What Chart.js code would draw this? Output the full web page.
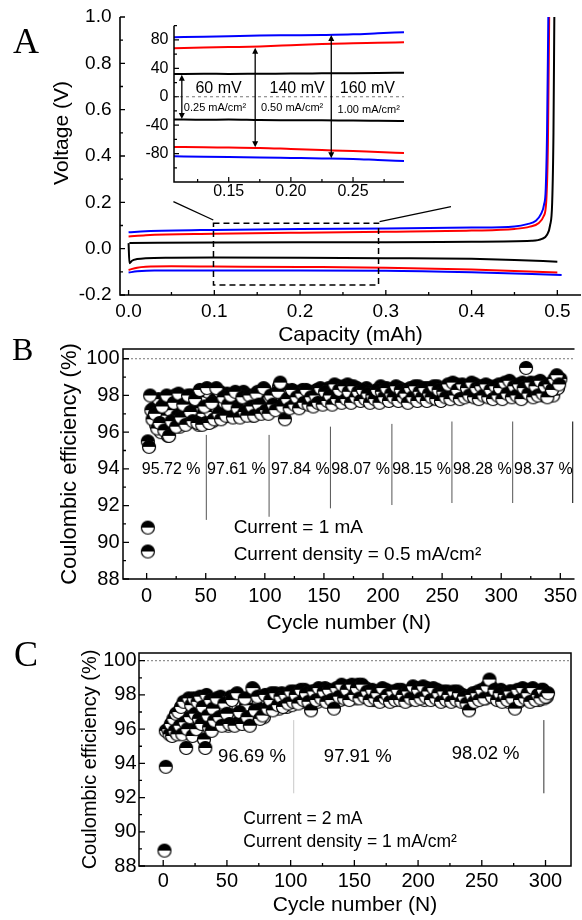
<!DOCTYPE html>
<html><head><meta charset="utf-8">
<script src="https://cdn.jsdelivr.net/npm/chart.js@4.4.0/dist/chart.umd.min.js"></script>
<style>
html,body{margin:0;padding:0;background:#fff;overflow:hidden;}
#wrap{position:relative;width:582px;height:920px;overflow:hidden;background:#fff;}
#cA{position:absolute;left:0;top:0;}
#cIn{position:absolute;left:130px;top:10px;}
#cB{position:absolute;left:0;top:330px;}
#cC{position:absolute;left:0;top:630px;}
</style></head><body><div id="wrap">
<canvas id="cA" width="582" height="350"></canvas>
<canvas id="cB" width="582" height="310"></canvas>
<canvas id="cC" width="582" height="290"></canvas>
<canvas id="cIn" width="290" height="200"></canvas>
</div>
<script>
// ===================== DATA =====================
// Panel A: voltage profiles (Capacity mAh, Voltage V)
const aBlueUpX  = [0, 0.02, 0.1, 0.2, 0.3, 0.4, 0.45, 0.465, 0.475, 0.481, 0.4845, 0.4865, 0.488, 0.4895];
const aBlueUpY  = [0.071, 0.075, 0.081, 0.085, 0.087, 0.091, 0.096, 0.106, 0.12, 0.15, 0.19, 0.26, 0.5, 1.0];
const aRedUpX   = [0, 0.02, 0.1, 0.2, 0.3, 0.4, 0.45, 0.468, 0.478, 0.484, 0.487, 0.489, 0.4905];
const aRedUpY   = [0.052, 0.058, 0.064, 0.069, 0.073, 0.078, 0.085, 0.095, 0.11, 0.14, 0.2, 0.45, 1.0];
const aBlackUpX = [0.001, 0.1, 0.2, 0.3, 0.4, 0.47, 0.482, 0.488, 0.4915, 0.494, 0.4955, 0.4965];
const aBlackUpY = [0.024, 0.027, 0.028, 0.028, 0.030, 0.034, 0.042, 0.06, 0.1, 0.2, 0.5, 1.0];
const aBlackDnX = [0, 0.001, 0.004, 0.01, 0.02, 0.05, 0.1, 0.2, 0.3, 0.4, 0.45, 0.5];
const aBlackDnY = [0.024, -0.063, -0.052, -0.045, -0.041, -0.039, -0.038, -0.039, -0.041, -0.044, -0.049, -0.056];
const aRedDnX   = [0, 0.01, 0.02, 0.05, 0.1, 0.2, 0.3, 0.4, 0.5];
const aRedDnY   = [-0.092, -0.082, -0.078, -0.076, -0.077, -0.079, -0.082, -0.09, -0.103];
const aBlueDnX  = [0, 0.01, 0.03, 0.1, 0.2, 0.3, 0.4, 0.505];
const aBlueDnY  = [-0.103, -0.098, -0.094, -0.094, -0.094, -0.095, -0.102, -0.114];
const aXTicks = [0, 0.1, 0.2, 0.3, 0.4, 0.5];
const aXMinor = [0.05, 0.15, 0.25, 0.35, 0.45];
const aYTicks = [-0.2, 0, 0.2, 0.4, 0.6, 0.8, 1.0];
const aYMinor = [-0.1, 0.1, 0.3, 0.5, 0.7, 0.9];

// Inset (Capacity mAh, overpotential mV)
const inX        = [0.106, 0.13, 0.15, 0.175, 0.2, 0.225, 0.25, 0.27, 0.291];
const inBlueTop  = [83.8, 84.6, 85.3, 86.2, 86.6, 87.0, 87.8, 89.3, 90.9];
const inRedTop   = [68.4, 69.2, 69.9, 70.8, 72.5, 74.3, 75.3, 76.0, 76.8];
const inBlackTop = [32.0, 32.3, 32.1, 32.4, 32.6, 32.9, 33.2, 33.5, 33.9];
const inBlackBot = [-32.0, -32.4, -32.2, -32.8, -33.0, -33.2, -33.6, -33.8, -34.0];
const inRedBot   = [-70.6, -71.0, -71.5, -72.0, -73.5, -75.0, -76.5, -77.8, -79.1];
const inBlueBot  = [-83.8, -84.3, -84.8, -85.6, -86.2, -86.8, -87.6, -89.0, -90.4];
const inXTicks = [0.15, 0.2, 0.25];
const inXMinor = [0.125, 0.175, 0.225, 0.275];
const inYTicks = [-80, -40, 0, 40, 80];
const inYMinor = [-100, -60, -20, 20, 60, 100];
const inGapText = ['60 mV', '140 mV', '160 mV'];
const inRateText = ['0.25 mA/cm²', '0.50 mA/cm²', '1.00 mA/cm²'];

// Panel B: Coulombic efficiency, 0.5 mA/cm2 (odd cycles + outliers)
const bCycle = [1, 1, 1, 2, 3, 4,
  5, 7, 9, 11, 13, 15, 17, 19, 21, 23,
  25, 27, 29, 31, 33, 35, 37, 39, 41, 43,
  45, 47, 49, 51, 53, 55, 57, 59, 61, 63,
  65, 67, 69, 71, 73, 75, 77, 79, 81, 83,
  85, 87, 89, 91, 93, 95, 97, 99, 101, 103,
  105, 107, 109, 111, 113, 115, 117, 119, 121,
  123, 125, 127, 129, 131, 133, 135, 137, 139, 141,
  143, 145, 147, 149, 151, 153, 155, 157, 159, 161,
  163, 165, 167, 169, 171, 173, 175, 177, 179, 181,
  183, 185, 187, 189, 191, 193, 195, 197, 199, 201,
  203, 205, 207, 209, 211, 213, 215, 217, 219, 221,
  223, 225, 227, 229, 231, 233, 235, 237, 239, 241,
  243, 245, 247, 249, 251, 253, 255, 257, 259, 261,
  263, 265, 267, 269, 271, 273, 275, 277, 279, 281,
  283, 285, 287, 289, 291, 293, 295, 297, 299, 301,
  303, 305, 307, 309, 311, 313, 315, 317, 319, 321,
  323, 325, 327, 329, 331, 333, 335, 337, 339, 341,
  343, 345, 347, 349];
const bCE = [90.8, 89.5, 95.5, 95.2, 98.0, 97.2,
  96.7, 97.0, 96.2, 96.5, 97.4, 96.1, 98.0, 95.8, 96.6, 97.6,
  96.3, 98.1, 96.8, 97.5, 96.4, 98.0, 97.1, 96.6, 97.8, 96.5,
  98.3, 96.4, 97.4, 98.4, 96.5, 97.6, 96.7, 98.4, 97.0, 96.7,
  97.9, 96.9, 97.5, 98.0, 96.8, 98.2, 97.3, 96.8, 97.9, 97.1,
  96.9, 98.0, 97.4, 96.9, 98.1, 97.5, 97.0, 98.4, 97.2, 97.0,
  98.0, 97.5, 97.2, 98.2, 98.7, 97.4, 96.7, 97.8, 97.3,
  98.3, 97.5, 97.9, 97.3, 98.1, 97.6, 98.3, 97.5, 97.9, 97.4,
  98.0, 97.6, 98.4, 97.5, 98.2, 97.7, 98.0, 97.5, 98.6, 97.8,
  98.3, 97.6, 98.5, 97.8, 98.2, 97.6, 98.5, 97.9, 98.2, 97.7,
  98.3, 97.8, 98.1, 97.6, 98.0, 97.8, 98.3, 97.6, 98.2, 97.9,
  98.4, 97.7, 98.1, 97.9, 98.5, 97.7, 98.3, 97.9, 98.1, 97.6,
  98.4, 97.9, 98.5, 97.7, 98.2, 97.9, 98.4, 97.7, 98.1, 97.9,
  98.5, 97.8, 98.3, 97.7, 98.2, 97.9, 98.6, 97.8, 98.7, 98.0,
  98.3, 97.8, 98.6, 97.9, 98.4, 98.0, 98.7, 97.9, 98.4, 97.8,
  98.5, 98.0, 98.6, 97.9, 98.3, 97.8, 98.5, 98.0, 98.4, 97.8,
  98.7, 98.1, 98.8, 97.9, 98.5, 98.0, 98.6, 97.8, 98.4, 99.5,
  98.1, 98.7, 97.9, 98.5, 98.0, 98.8, 98.1, 98.5, 97.9, 98.6,
  98.3, 98.9, 99.1, 98.6];
// Panel B: even cycles
const bCycleEven = [6, 8, 10, 12, 14, 16, 18, 20, 22, 24,
  26, 28, 30, 32, 34, 36, 38, 40, 42, 44,
  46, 48, 50, 52, 54, 56, 58, 60, 62, 64,
  66, 68, 70, 72, 74, 76, 78, 80, 82, 84,
  86, 88, 90, 92, 94, 96, 98, 100, 102, 104,
  106, 108, 110, 112, 114, 116, 118, 120, 122, 124,
  126, 128, 130, 132, 134, 136, 138, 140, 142, 144,
  146, 148, 150, 152, 154, 156, 158, 160, 162, 164,
  166, 168, 170, 172, 174, 176, 178, 180, 182, 184,
  186, 188, 190, 192, 194, 196, 198, 200, 202, 204,
  206, 208, 210, 212, 214, 216, 218, 220, 222, 224,
  226, 228, 230, 232, 234, 236, 238, 240, 242, 244,
  246, 248, 250, 252, 254, 256, 258, 260, 262, 264,
  266, 268, 270, 272, 274, 276, 278, 280, 282, 284,
  286, 288, 290, 292, 294, 296, 298, 300, 302, 304,
  306, 308, 310, 312, 314, 316, 318, 320, 322, 324,
  326, 328, 330, 332, 334, 336, 338, 340, 342, 344,
  346, 348, 350];
const bCEEven = [97.3, 96.4, 97.8, 96.0, 96.9, 97.7, 95.8, 97.2, 96.4, 98.0,
  96.9, 96.3, 97.8, 97.0, 96.5, 97.4, 98.0, 96.8, 97.3, 96.4,
  97.9, 97.0, 96.5, 98.2, 97.1, 96.6, 97.8, 97.3, 98.2, 96.8,
  97.6, 98.1, 96.9, 97.4, 96.9, 98.0, 97.6, 97.0, 98.2, 97.5,
  97.2, 97.8, 96.9, 97.6, 98.2, 97.1, 97.7, 98.3, 97.5, 97.9,
  97.3, 98.0, 97.5, 98.5, 97.9, 97.6, 98.3, 97.6, 97.9, 97.7,
  98.2, 97.8, 97.5, 98.3, 97.8, 97.6, 98.2, 97.9, 97.6, 98.3,
  97.9, 97.7, 98.1, 97.8, 98.4, 97.8, 98.1, 98.0, 98.5, 97.9,
  98.1, 97.9, 98.6, 98.0, 98.2, 97.8, 98.4, 98.0, 98.1, 97.8,
  98.4, 97.9, 98.2, 97.9, 98.1, 97.8, 98.5, 97.9, 98.2, 98.0,
  98.3, 97.8, 98.1, 98.0, 98.4, 97.8, 98.3, 98.0, 98.2, 97.8,
  98.3, 98.0, 98.5, 97.9, 98.2, 98.0, 98.4, 97.8, 98.2, 98.0,
  98.5, 98.0, 98.3, 98.1, 98.3, 98.0, 98.4, 98.2, 98.6, 98.0,
  98.3, 98.1, 98.5, 98.0, 98.4, 98.2, 98.6, 98.1, 98.3, 98.0,
  98.4, 98.2, 98.5, 98.0, 98.3, 98.2, 98.6, 98.1, 98.4, 98.0,
  98.5, 98.2, 98.6, 98.1, 98.3, 98.2, 98.7, 98.0, 98.4, 98.2,
  98.5, 98.1, 98.7, 98.2, 98.4, 98.0, 98.6, 98.2, 98.5, 98.0,
  98.7, 98.4, 98.9];
const bAvgText = ['95.72 %', '97.61 %', '97.84 %', '98.07 %', '98.15 %', '98.28 %', '98.37 %'];
const bXTicks = [0, 50, 100, 150, 200, 250, 300, 350];
const bXMinor = [25, 75, 125, 175, 225, 275, 325];
const ceYTicks = [88, 90, 92, 94, 96, 98, 100];
const ceYMinor = [89, 91, 93, 95, 97, 99];

// Panel C: Coulombic efficiency, 1 mA/cm2
const cCycle = [1, 2, 2, 4, 5, 6, 7, 8, 9, 10,
  11, 12, 13, 14, 15, 16, 17, 18, 19, 20,
  21, 22, 23, 24, 25, 26, 27, 28, 29, 30,
  31, 32, 33, 34, 35, 36, 37, 38, 39, 40,
  42, 44, 46, 48, 50, 52, 54, 56, 58, 60,
  62, 64, 66, 68, 70, 72, 74, 76, 78, 80,
  82, 84, 86, 88, 90, 92, 94, 96, 98, 100, 102,
  104, 106, 108, 110, 112, 114, 116, 118, 120, 122,
  124, 126, 128, 130, 132, 134, 136, 138, 140, 142,
  144, 146, 148, 150, 152, 154, 156, 158, 160, 162,
  164, 166, 168, 170, 172, 174, 176, 178, 180, 182,
  184, 186, 188, 190, 192, 194, 196, 198, 200, 202,
  204, 206, 208, 210, 212, 214, 216, 218, 220, 222,
  224, 226, 228, 230, 232, 234, 236, 238, 240, 242,
  244, 246, 248, 250, 252, 254, 256, 258, 260, 262,
  264, 266, 268, 270, 272, 274, 276, 278, 280, 282,
  284, 286, 288, 290, 292, 294, 296, 298, 300, 302];
const cCE = [88.9, 93.8, 95.9, 96.0, 95.7, 96.3, 95.6, 96.6, 95.9, 96.9,
  95.7, 97.0, 96.2, 97.3, 95.7, 97.6, 96.4, 94.9, 96.0, 97.8,
  96.7, 97.4, 95.6, 97.8, 96.9, 96.0, 97.6, 96.6, 97.9, 96.3,
  97.3, 95.4, 94.9, 98.0, 96.8, 96.1, 97.7, 95.9, 97.2, 96.5,
  97.8, 96.7, 96.2, 97.5, 96.9, 96.3, 97.7, 96.2, 98.1, 97.0,
  96.3, 97.8, 96.7, 96.2, 98.4, 97.1, 97.9, 96.6, 96.8, 98.0,
  97.2, 97.7, 97.1, 98.1, 97.4, 97.9, 97.3, 98.0, 97.5, 98.2, 97.6,
  98.0, 97.5, 98.3, 97.7, 98.1, 97.6, 97.1, 98.2, 97.7, 98.4,
  97.8, 98.2, 97.6, 98.3, 97.7, 97.2, 98.4, 97.9, 98.6, 97.8,
  98.3, 97.7, 98.6, 98.0, 98.4, 97.8, 98.6, 97.9, 98.2, 97.7,
  98.3, 97.8, 98.1, 97.6, 98.4, 97.8, 98.0, 97.6, 98.2, 97.7,
  98.3, 97.7, 98.0, 97.6, 98.2, 97.8, 98.5, 97.7, 98.3, 97.8,
  98.5, 97.9, 98.2, 97.7, 98.4, 97.8, 98.1, 97.6, 98.2, 97.7,
  98.0, 97.6, 98.2, 97.7, 98.1, 97.6, 97.9, 97.5, 97.1, 98.0,
  97.6, 98.1, 97.7, 98.3, 97.8, 98.5, 98.9, 97.9, 98.3, 97.7,
  98.1, 97.6, 98.0, 97.7, 98.2, 97.8, 97.2, 98.3, 97.7, 98.4,
  97.8, 98.1, 97.6, 98.4, 97.7, 98.0, 97.8, 98.3, 97.9, 98.1];
// Panel C: odd cycles from 41
const cCycleOdd = [41, 43, 45, 47, 49, 51, 53, 55, 57, 59,
  61, 63, 65, 67, 69, 71, 73, 75, 77, 79,
  81, 83, 85, 87, 89, 91, 93, 95, 97, 99,
  101, 103, 105, 107, 109, 111, 113, 115, 117, 119,
  121, 123, 125, 127, 129, 131, 133, 135, 137, 139,
  141, 143, 145, 147, 149, 151, 153, 155, 157, 159,
  161, 163, 165, 167, 169, 171, 173, 175, 177, 179,
  181, 183, 185, 187, 189, 191, 193, 195, 197, 199,
  201, 203, 205, 207, 209, 211, 213, 215, 217, 219,
  221, 223, 225, 227, 229, 231, 233, 235, 237, 239,
  241, 243, 245, 247, 249, 251, 253, 255, 257, 259,
  261, 263, 265, 267, 269, 271, 273, 275, 277, 279,
  281, 283, 285, 287, 289, 291, 293, 295, 297, 299, 301];
const cCEOdd = [97.1, 96.3, 97.9, 96.6, 97.3, 96.2, 97.9, 96.8, 98.0, 96.4,
  97.6, 96.9, 97.4, 96.3, 97.9, 98.3, 96.9, 97.6, 97.2, 96.7,
  97.8, 97.3, 98.1, 97.5, 97.9, 97.2, 98.1, 97.6, 97.3, 97.9,
  97.4, 98.2, 97.7, 97.9, 97.6, 98.3, 97.8, 97.5, 98.2, 97.9,
  97.6, 98.1, 97.9, 98.4, 97.8, 98.0, 97.6, 98.2, 98.0, 97.7,
  98.3, 98.0, 98.5, 97.9, 98.2, 97.8, 98.6, 98.1, 97.9, 98.4,
  97.9, 98.1, 97.7, 98.2, 97.9, 98.0, 97.7, 98.3, 97.8, 98.0,
  97.7, 98.1, 97.9, 98.3, 97.8, 98.0, 97.7, 98.2, 98.0, 98.4,
  97.9, 98.1, 97.7, 98.4, 98.0, 98.2, 97.8, 98.3, 97.9, 98.0,
  97.7, 98.2, 97.9, 98.0, 97.7, 98.2, 97.8, 98.0, 97.7, 97.9,
  97.6, 98.1, 97.8, 98.2, 97.9, 98.1, 97.8, 98.4, 98.5, 98.0,
  98.2, 97.8, 98.3, 97.9, 98.1, 97.6, 98.2, 97.9, 98.0, 97.6,
  98.2, 97.9, 98.3, 97.8, 98.1, 97.9, 98.2, 97.7, 98.3, 97.8, 97.9];
const cAvgText = ['96.69 %', '97.91 %', '98.02 %'];
const cXTicks = [0, 50, 100, 150, 200, 250, 300];
const cXMinor = [25, 75, 125, 175, 225, 275];

// ===================== HELPERS =====================
const FONT = '"Liberation Sans", Arial, Helvetica, sans-serif';
const SERIF = '"Liberation Serif", "Times New Roman", serif';
Chart.defaults.font.family = FONT;
Chart.defaults.color = '#000';

const pts = (xs, ys) => xs.map((x, i) => ({x: x, y: ys[i]}));
const fixTicks = arr => axis => { axis.ticks = arr.map(v => ({value: v})); };
const fitW = w => axis => { axis.width = w; axis.paddingTop = 0; axis.paddingBottom = 0; axis.paddingLeft = 0; axis.paddingRight = 0; };
const fitH = h => axis => { axis.height = h; axis.paddingTop = 0; axis.paddingBottom = 0; axis.paddingLeft = 0; axis.paddingRight = 0; };

function xAxis(o) {
  return { type: 'linear', position: 'bottom', min: o.min, max: o.max,
    grid: {display: false, drawTicks: false}, border: {display: false},
    afterBuildTicks: fixTicks(o.ticks), afterFit: fitH(o.h),
    ticks: {padding: o.pad, autoSkip: false, maxRotation: 0, minRotation: 0, color: '#000',
      font: {size: o.fs, family: FONT, lineHeight: 1.2}, callback: o.fmt},
    title: o.title ? {display: true, text: o.title, color: '#000', font: {size: o.tfs, family: FONT, lineHeight: 1.2},
      padding: {top: 0, bottom: o.tpad}} : {display: false}
  };
}
function yAxis(o) {
  return { type: 'linear', position: 'left', min: o.min, max: o.max,
    grid: {display: false, drawTicks: false}, border: {display: false},
    afterBuildTicks: fixTicks(o.ticks), afterFit: fitW(o.w),
    ticks: {padding: o.pad, autoSkip: false, color: '#000',
      font: {size: o.fs, family: FONT, lineHeight: 1.2}, callback: o.fmt},
    title: o.title ? {display: true, text: o.title, color: '#000', font: {size: o.tfs, family: FONT, lineHeight: 1.2},
      padding: {top: o.tpad, bottom: 0}} : {display: false}
  };
}

function framePlugin(cfg) {
  return {
    id: 'frame',
    beforeDatasetsDraw(chart) {
      const {ctx, chartArea: a, scales: {y}} = chart;
      ctx.save();
      (cfg.refY || []).forEach(r => {
        const py = y.getPixelForValue(r.y);
        ctx.strokeStyle = r.color; ctx.lineWidth = r.width; ctx.setLineDash(r.dash);
        ctx.beginPath(); ctx.moveTo(a.left, py); ctx.lineTo(a.right, py); ctx.stroke();
      });
      ctx.restore();
    },
    afterDatasetsDraw(chart) {
      const {ctx, chartArea: a, scales: {x, y}} = chart;
      const seg = (x1, y1, x2, y2) => { ctx.moveTo(x1, y1); ctx.lineTo(x2, y2); };
      ctx.save();
      ctx.strokeStyle = '#000'; ctx.setLineDash([]); ctx.lineWidth = cfg.lw;
      ctx.beginPath();
      seg(a.left, a.top, a.left, a.bottom + cfg.lw / 2);
      seg(a.left - cfg.lw / 2, a.bottom, a.right, a.bottom);
      if (cfg.top) seg(a.left - cfg.lw / 2, a.top, a.right + (cfg.right ? cfg.lw / 2 : 0), a.top);
      if (cfg.right) seg(a.right, a.top, a.right, a.bottom + cfg.lw / 2);
      ctx.stroke();
      ctx.lineWidth = cfg.tw;
      ctx.beginPath();
      cfg.xMajor.forEach(v => { const p = x.getPixelForValue(v); seg(p, a.bottom, p, a.bottom - cfg.maj); });
      cfg.xMinor.forEach(v => { const p = x.getPixelForValue(v); seg(p, a.bottom, p, a.bottom - cfg.mnr); });
      cfg.yMajor.forEach(v => { const p = y.getPixelForValue(v); seg(a.left, p, a.left + cfg.maj, p); });
      cfg.yMinor.forEach(v => { const p = y.getPixelForValue(v); seg(a.left, p, a.left + cfg.mnr, p); });
      ctx.stroke();
      ctx.restore();
    }
  };
}

function notesPlugin(items) {
  return {
    id: 'notes',
    afterDatasetsDraw(chart) {
      const {ctx, scales: {x, y}} = chart;
      const X = v => x.getPixelForValue(v), Y = v => y.getPixelForValue(v);
      ctx.save();
      for (const it of items) {
        ctx.setLineDash(it.dash || []);
        ctx.strokeStyle = it.color || '#000';
        ctx.fillStyle = it.color || '#000';
        ctx.lineWidth = it.width || 1;
        if (it.kind === 'line') {
          ctx.beginPath(); ctx.moveTo(X(it.x1), Y(it.y1)); ctx.lineTo(X(it.x2), Y(it.y2)); ctx.stroke();
        } else if (it.kind === 'rect') {
          const x1 = X(it.x1), x2 = X(it.x2), y1 = Y(it.y1), y2 = Y(it.y2);
          ctx.beginPath(); ctx.rect(x1, y1, x2 - x1, y2 - y1); ctx.stroke();
        } else if (it.kind === 'arrow') {
          const px = X(it.x), p1 = Y(it.y1), p2 = Y(it.y2), hl = 6, hw = 3;
          ctx.beginPath(); ctx.moveTo(px, p1 + hl - 1); ctx.lineTo(px, p2 - hl + 1); ctx.stroke();
          ctx.beginPath(); ctx.moveTo(px, p1); ctx.lineTo(px - hw, p1 + hl); ctx.lineTo(px + hw, p1 + hl); ctx.closePath(); ctx.fill();
          ctx.beginPath(); ctx.moveTo(px, p2); ctx.lineTo(px - hw, p2 - hl); ctx.lineTo(px + hw, p2 - hl); ctx.closePath(); ctx.fill();
        } else if (it.kind === 'text' || it.kind === 'ptext') {
          const px = it.kind === 'text' ? X(it.x) : it.x;
          const py = it.kind === 'text' ? Y(it.y) : it.y;
          ctx.font = (it.size) + 'px ' + (it.serif ? SERIF : FONT);
          ctx.textAlign = it.align || 'center';
          ctx.textBaseline = it.base || 'middle';
          ctx.translate(px, py);
          if (it.rot) ctx.rotate(it.rot);
          ctx.fillText(it.text, 0, 0);
          ctx.setTransform(1, 0, 0, 1, 0, 0);
        }
      }
      ctx.restore();
    }
  };
}

function halfCircle(r) {
  const s = Math.ceil(2 * r + 3);
  const c = document.createElement('canvas');
  c.width = s; c.height = s;
  const g = c.getContext('2d');
  const cx = s / 2, cy = s / 2;
  g.beginPath(); g.arc(cx, cy, r, 0, 2 * Math.PI); g.fillStyle = '#fff'; g.fill();
  g.beginPath(); g.arc(cx, cy, r, Math.PI, 2 * Math.PI); g.closePath(); g.fillStyle = '#000'; g.fill();
  g.beginPath(); g.arc(cx, cy, r, 0, 2 * Math.PI); g.lineWidth = 1.2; g.strokeStyle = '#000'; g.stroke();
  return c;
}
const marker = halfCircle(6.5);

const base = {responsive: false, animation: false, events: [],
  plugins: {legend: {display: false}, tooltip: {enabled: false}}};
const lineDs = (xs, ys, color) => ({data: pts(xs, ys), showLine: true, borderColor: color, borderWidth: 2,
  pointRadius: 0, cubicInterpolationMode: 'monotone', fill: false});
const ptDs = (xs, ys) => ({data: pts(xs, ys), pointStyle: marker, pointRadius: 6.5, showLine: false});
const f1 = v => Number(v).toFixed(1);
const f2 = v => Number(v).toFixed(2);
const f0 = v => String(Math.round(v));

// ===================== PANEL A =====================
new Chart(document.getElementById('cA'), {
  type: 'scatter',
  data: {datasets: [
    lineDs(aBlueUpX, aBlueUpY, '#0000ff'),
    lineDs(aBlueDnX, aBlueDnY, '#0000ff'),
    lineDs(aRedUpX, aRedUpY, '#ff0000'),
    lineDs(aRedDnX, aRedDnY, '#ff0000'),
    lineDs(aBlackUpX, aBlackUpY, '#000000'),
    lineDs(aBlackDnX, aBlackDnY, '#000000')
  ]},
  options: Object.assign({}, base, {
    layout: {padding: {left: 0, top: 17, right: 1, bottom: 0}},
    scales: {
      x: xAxis({min: -0.01, max: 0.5276, ticks: aXTicks, h: 55, pad: 5, fs: 19, fmt: f1,
        title: 'Capacity (mAh)', tfs: 21, tpad: 2.4}),
      y: yAxis({min: -0.2, max: 1.0, ticks: aYTicks, w: 120, pad: 8.5, fs: 19, fmt: f1})
    }
  }),
  plugins: [
    framePlugin({lw: 1.6, tw: 1.3, maj: 5, mnr: 3, top: false, right: false,
      xMajor: aXTicks, xMinor: aXMinor, yMajor: aYTicks, yMinor: aYMinor}),
    notesPlugin([
      {kind: 'rect', x1: 0.099, y1: 0.11, x2: 0.2915, y2: -0.157, dash: [6, 4], width: 1.5},
      {kind: 'line', x1: 0.0523, y1: 0.2027, x2: 0.0988, y2: 0.1237, width: 1.3},
      {kind: 'line', x1: 0.2927, y1: 0.1165, x2: 0.376, y2: 0.181, width: 1.3},
      {kind: 'ptext', x: 62, y: 133, text: 'Voltage (V)', size: 21, rot: -Math.PI / 2},
      {kind: 'ptext', x: 13, y: 53, text: 'A', size: 36, serif: true, align: 'left', base: 'alphabetic'}
    ])
  ]
});

// ===================== INSET =====================
new Chart(document.getElementById('cIn'), {
  type: 'scatter',
  data: {datasets: [
    lineDs(inX, inBlueTop, '#0000ff'),
    lineDs(inX, inBlueBot, '#0000ff'),
    lineDs(inX, inRedTop, '#ff0000'),
    lineDs(inX, inRedBot, '#ff0000'),
    lineDs(inX, inBlackTop, '#000000'),
    lineDs(inX, inBlackBot, '#000000')
  ]},
  options: Object.assign({}, base, {
    layout: {padding: {left: 0, top: 15.7, right: 16, bottom: 0}},
    scales: {
      x: xAxis({min: 0.106, max: 0.291, ticks: inXTicks, h: 28, pad: 0, fs: 16, fmt: f2}),
      y: yAxis({min: -120, max: 100, ticks: inYTicks, w: 44, pad: 5.5, fs: 16, fmt: f0})
    }
  }),
  plugins: [
    framePlugin({lw: 1.5, tw: 1.2, maj: 5, mnr: 3, top: false, right: false,
      refY: [{y: 0, color: '#777', width: 1, dash: [3, 3]}],
      xMajor: inXTicks, xMinor: inXMinor, yMajor: inYTicks, yMinor: inYMinor}),
    notesPlugin([
      {kind: 'arrow', x: 0.1123, y1: 31, y2: -31.5, width: 1.3},
      {kind: 'arrow', x: 0.1713, y1: 69, y2: -71, width: 1.3},
      {kind: 'arrow', x: 0.2325, y1: 87, y2: -86.5, width: 1.3},
      {kind: 'text', x: 0.1418, y: 12, text: inGapText[0], size: 16},
      {kind: 'text', x: 0.205, y: 12, text: inGapText[1], size: 16},
      {kind: 'text', x: 0.2615, y: 12, text: inGapText[2], size: 16},
      {kind: 'text', x: 0.139, y: -16.4, text: inRateText[0], size: 11},
      {kind: 'text', x: 0.201, y: -16.4, text: inRateText[1], size: 11},
      {kind: 'text', x: 0.2626, y: -18.5, text: inRateText[2], size: 11}
    ])
  ]
});

// ===================== PANEL B =====================
new Chart(document.getElementById('cB'), {
  type: 'scatter',
  data: {datasets: [ptDs(bCycle, bCE), ptDs(bCycleEven, bCEEven)]},
  options: Object.assign({}, base, {
    layout: {padding: {left: 0, top: 19, right: 1, bottom: 0}},
    scales: {
      x: xAxis({min: -20, max: 362, ticks: bXTicks, h: 61, pad: 5.7, fs: 20, fmt: f0,
        title: 'Cycle number (N)', tfs: 21, tpad: 4.4}),
      y: yAxis({min: 88, max: 100.53, ticks: ceYTicks, w: 123, pad: 3.5, fs: 20, fmt: f0,
        title: 'Coulombic efficiency (%)', tfs: 22, tpad: 56.5})
    }
  }),
  plugins: [
    framePlugin({lw: 1.5, tw: 1.3, maj: 6, mnr: 3, top: true, right: false,
      refY: [{y: 100, color: '#777', width: 1, dash: [2, 2]}],
      xMajor: bXTicks, xMinor: bXMinor, yMajor: ceYTicks, yMinor: ceYMinor}),
    notesPlugin([
      {kind: 'line', x1: 50.5, y1: 95.85, x2: 50.5, y2: 91.22, color: '#555'},
      {kind: 'line', x1: 103.6, y1: 95.85, x2: 103.6, y2: 91.39, color: '#555'},
      {kind: 'line', x1: 155.5, y1: 96.3, x2: 155.5, y2: 91.85, color: '#555'},
      {kind: 'line', x1: 207.5, y1: 96.45, x2: 207.5, y2: 92.03, color: '#555'},
      {kind: 'line', x1: 258.3, y1: 96.58, x2: 258.3, y2: 92.14, color: '#555'},
      {kind: 'line', x1: 309.7, y1: 96.58, x2: 309.7, y2: 92.14, color: '#555'},
      {kind: 'line', x1: 360.5, y1: 96.58, x2: 360.5, y2: 92.14, color: '#000'},
      {kind: 'text', x: 20.8, y: 93.94, text: bAvgText[0], size: 16},
      {kind: 'text', x: 76, y: 93.94, text: bAvgText[1], size: 16},
      {kind: 'text', x: 130, y: 93.94, text: bAvgText[2], size: 16},
      {kind: 'text', x: 181, y: 93.94, text: bAvgText[3], size: 16},
      {kind: 'text', x: 232.6, y: 93.94, text: bAvgText[4], size: 16},
      {kind: 'text', x: 284, y: 93.94, text: bAvgText[5], size: 16},
      {kind: 'text', x: 335.7, y: 93.94, text: bAvgText[6], size: 16},
      {kind: 'text', x: 73.6, y: 90.78, text: 'Current = 1 mA', size: 19, align: 'left'},
      {kind: 'text', x: 73.6, y: 89.3, text: 'Current density = 0.5 mA/cm²', size: 19, align: 'left'},
      {kind: 'ptext', x: 12, y: 30, text: 'B', size: 32, serif: true, align: 'left', base: 'alphabetic'}
    ])
  ]
});

// ===================== PANEL C =====================
new Chart(document.getElementById('cC'), {
  type: 'scatter',
  data: {datasets: [ptDs(cCycle, cCE), ptDs(cCycleOdd, cCEOdd)]},
  options: Object.assign({}, base, {
    layout: {padding: {left: 0, top: 23, right: 11, bottom: 0}},
    scales: {
      x: xAxis({min: -19, max: 320, ticks: cXTicks, h: 54, pad: 3.7, fs: 20, fmt: f0,
        title: 'Cycle number (N)', tfs: 21, tpad: 2.4}),
      y: yAxis({min: 88, max: 100.45, ticks: ceYTicks, w: 139, pad: 2.5, fs: 20, fmt: f0,
        title: 'Coulombic efficiency (%)', tfs: 20, tpad: 78})
    }
  }),
  plugins: [
    framePlugin({lw: 1.5, tw: 1.3, maj: 6, mnr: 3, top: true, right: true,
      refY: [{y: 100, color: '#777', width: 1, dash: [2, 2]}],
      xMajor: cXTicks, xMinor: cXMinor, yMajor: ceYTicks, yMinor: ceYMinor}),
    notesPlugin([
      {kind: 'line', x1: 102.4, y1: 96.53, x2: 102.4, y2: 92.25, color: '#c8c8c8'},
      {kind: 'line', x1: 298.7, y1: 96.53, x2: 298.7, y2: 92.25, color: '#333'},
      {kind: 'text', x: 69.7, y: 94.37, text: cAvgText[0], size: 18.5},
      {kind: 'text', x: 152.7, y: 94.37, text: cAvgText[1], size: 18.5},
      {kind: 'text', x: 253, y: 94.54, text: cAvgText[2], size: 18.5},
      {kind: 'text', x: 62.9, y: 90.74, text: 'Current = 2 mA', size: 17.5, align: 'left'},
      {kind: 'text', x: 62.9, y: 89.4, text: 'Current density = 1 mA/cm²', size: 17.5, align: 'left'},
      {kind: 'ptext', x: 14, y: 36, text: 'C', size: 36, serif: true, align: 'left', base: 'alphabetic'}
    ])
  ]
});
</script>
</body></html>
